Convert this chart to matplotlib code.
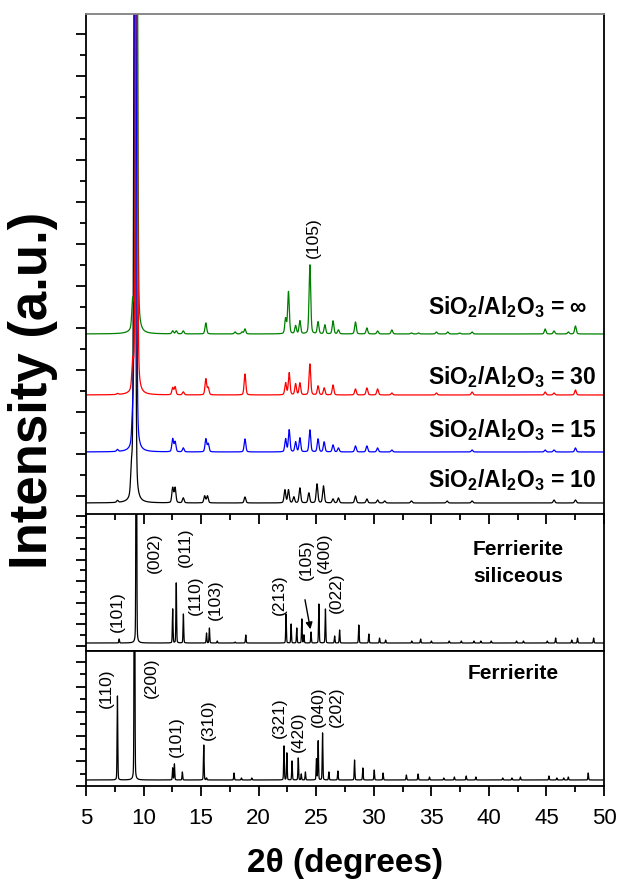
import matplotlib
matplotlib.use('Agg')
import matplotlib.pyplot as plt
from matplotlib.ticker import MultipleLocator, FixedLocator
import numpy as np

plt.rcParams['font.family'] = ['Liberation Sans', 'DejaVu Sans']
plt.rcParams['mathtext.fontset'] = 'custom'
plt.rcParams['mathtext.rm'] = 'Liberation Sans:bold'
plt.rcParams['mathtext.default'] = 'rm'

# --- peak tables (2theta, intensity a.u.) ---
# experimental patterns, SiO2/Al2O3 = 10, 15, 30, inf
pos_10 = [7.73, 8.95, 9.22, 12.53, 12.74, 13.45, 15.31, 15.55, 18.81, 22.28, 22.59,
          23.05, 23.58, 24.36, 25.07, 25.63, 26.46, 26.93, 28.41, 29.4, 30.33, 30.95,
          33.27, 36.37, 38.54, 45.66, 47.52]
int_10 = [2, 25, 700, 15, 15, 5, 7, 7, 6, 13, 13,
          6, 15, 10, 19, 17, 4, 5, 7, 4, 3, 2,
          2, 2, 2, 3, 3]

pos_15 = [7.73, 9.05, 9.3, 12.53, 12.74, 13.45, 15.41, 15.62, 18.81, 22.34, 22.65,
          23.21, 23.58, 24.45, 25.16, 25.69, 26.46, 26.93, 28.41, 29.4, 30.33, 31.57,
          38.54, 44.89, 45.66, 47.52]
int_15 = [2, 25, 700, 13, 10, 4, 13, 8, 13, 13, 22,
          10, 14, 22, 13, 10, 7, 4, 6, 6, 4, 2,
          2, 2, 2, 4]

pos_30 = [7.73, 9.05, 9.38, 12.53, 12.74, 13.45, 15.41, 15.62, 18.81, 22.34, 22.65,
          23.21, 23.58, 24.45, 25.16, 25.69, 26.46, 28.41, 29.4, 30.33, 31.57, 35.44,
          38.54, 44.89, 45.66, 47.52]
int_30 = [1, 25, 700, 7, 8, 3, 16, 7, 21, 12, 22,
          11, 12, 31, 9, 7, 10, 6, 7, 6, 2, 2,
          3, 3, 2, 5]

pos_inf = [9.05, 9.4, 12.53, 12.84, 13.45, 15.41, 17.95, 18.56, 18.81, 22.34, 22.59,
           23.21, 23.58, 24.45, 25.16, 25.75, 26.46, 26.93, 28.41, 29.4, 30.33, 31.57,
           33.27, 33.89, 35.44, 36.43, 37.46, 38.54, 44.89, 45.66, 46.9, 47.52]
int_inf = [25, 700, 3, 3, 3, 11, 2, 2, 5, 15, 42,
           8, 13, 69, 12, 9, 13, 4, 12, 6, 3, 4,
           1, 1, 2, 2, 1, 2, 5, 3, 2, 8]

series_labels = ['SiO$_2$/Al$_2$O$_3$ = 10', 'SiO$_2$/Al$_2$O$_3$ = 15',
                 'SiO$_2$/Al$_2$O$_3$ = 30', 'SiO$_2$/Al$_2$O$_3$ = \u221e']
series_offsets = [0, 51, 108, 169]

# simulated pattern, siliceous ferrierite
pos_sil = [7.88, 9.37, 12.53, 12.84, 13.46, 15.47, 15.72, 16.4, 17.95, 18.88, 22.38,
           22.82, 23.31, 23.75, 23.93, 24.55, 25.23, 25.8, 26.6, 27.03, 28.7, 29.57,
           30.5, 31.03, 33.3, 34.07, 35.0, 36.55, 37.6, 38.7, 39.3, 40.2, 42.4,
           43.0, 45.07, 45.8, 47.2, 47.7, 49.1]
int_sil = [4, 400, 34, 60, 29, 10, 15, 2, 1, 8, 29,
           19, 15, 24, 8, 11, 39, 34, 7, 13, 18, 9,
           5, 3, 2, 4, 2, 2, 2, 2, 2, 2, 2,
           2, 2, 5, 3, 5, 5]
hkl_sil = ['(101)', '(002)', '(011)', '(110)', '(103)', '(213)', '(105)', '(400)', '(022)']
hkl_sil_x = [7.73, 10.98, 13.61, 14.54, 16.24, 21.82, 24.14, 25.69, 26.77]
hkl_sil_y = [32, 91, 97, 49, 44, 49, 84, 91, 51]

# simulated pattern, ferrierite
pos_fer = [7.73, 9.21, 12.53, 12.68, 13.37, 15.23, 15.47, 17.86, 18.5, 19.4, 22.2,
           22.45, 22.9, 23.44, 23.7, 24.06, 25.02, 25.17, 25.55, 26.1, 26.88, 28.33,
           29.05, 30.04, 30.81, 32.83, 33.85, 34.84, 36.08, 37.0, 38.03, 38.87, 41.2,
           42.0, 42.74, 45.22, 45.9, 46.5, 46.9, 48.63]
int_fer = [84, 400, 12, 16, 8, 35, 2, 7, 2, 2, 34,
           27, 19, 22, 6, 8, 21, 39, 47, 8, 9, 20,
           12, 10, 7, 5, 6, 3, 2, 3, 4, 3, 2,
           2, 3, 4, 2, 2, 3, 7]
hkl_fer = ['(110)', '(200)', '(101)', '(310)', '(321)', '(420)', '(040)', '(202)']
hkl_fer_x = [6.8, 10.67, 12.84, 15.62, 21.82, 23.43, 25.16, 26.77]
hkl_fer_y = [93, 103, 44, 61, 63, 49, 74, 74]


def pattern(x, pos, inten, fwhm, eta=0.3):
    """sum of pseudo-Voigt peaks"""
    y = np.zeros_like(x)
    g = fwhm / 2.0
    s = fwhm / 2.3548
    for p, h in zip(pos, inten):
        d = x - p
        lor = g**2 / (d**2 + g**2)
        gau = np.exp(-d**2 / (2 * s**2))
        y += h * (eta * lor + (1 - eta) * gau)
    return y


x = np.arange(5, 50.0001, 0.005)

fig = plt.figure(figsize=(6.21, 8.95), dpi=100)
ax1 = fig.add_axes([0.1385, 0.4246, 0.8341, 0.5587])
ax2 = fig.add_axes([0.1385, 0.2715, 0.8341, 0.1531])
ax3 = fig.add_axes([0.1385, 0.1207, 0.8341, 0.1508])

# top panel: experimental patterns
colors = ['black', '#0000ff', '#008000', '#ff0000']
tables = [(pos_10, int_10), (pos_15, int_15), (pos_inf, int_inf), (pos_30, int_30)]
offs = [series_offsets[0], series_offsets[1], series_offsets[3], series_offsets[2]]
for (p, i), c, o in zip(tables, colors, offs):
    ax1.plot(x, pattern(x, p, i, 0.17) + o, color=c, lw=0.9)

label_y = [24, 74, 127, 197]
for lab, ly in zip(series_labels, label_y):
    ax1.text(34.7, ly, lab, fontsize=16.5, fontweight='bold', ha='left', va='center')
ax1.text(24.72, 266, '(105)', rotation=90, fontsize=12.5, ha='center', va='center')

ax1.set_xlim(5, 50)
ax1.set_ylim(-11, 489)
ax1.yaxis.set_major_locator(FixedLocator(np.arange(7, 489, 42)))
ax1.yaxis.set_minor_locator(FixedLocator(np.arange(28, 489, 42)))
ax1.tick_params(axis='x', which='both', bottom=False, labelbottom=False)
ax1.spines['top'].set_color('#808080')
ax1.spines['bottom'].set_visible(False)

# middle panel: siliceous ferrierite
ax2.plot(x, pattern(x, pos_sil, int_sil, 0.07, 0.2), color='black', lw=0.9)
for lab, lx, ly in zip(hkl_sil, hkl_sil_x, hkl_sil_y):
    ax2.text(lx, ly, lab, rotation=90, fontsize=12.5, ha='center', va='center')
ax2.annotate('', xy=(24.54, 11), xytext=(23.98, 46),
             arrowprops=dict(arrowstyle='-|>', color='black', lw=1, mutation_scale=10))
ax2.text(42.57, 81, 'Ferrierite\nsiliceous', fontsize=15, fontweight='bold',
         ha='center', va='center', linespacing=1.5)
ax2.set_xlim(5, 50)
ax2.set_ylim(-8, 129)
ax2.yaxis.set_major_locator(FixedLocator(np.arange(-3, 129, 21.6)))
ax2.yaxis.set_minor_locator(FixedLocator(np.arange(7.8, 129, 21.6)))
ax2.xaxis.set_major_locator(MultipleLocator(5))
ax2.xaxis.set_minor_locator(MultipleLocator(2.5))
ax2.tick_params(axis='x', which='both', bottom=False, top=True, direction='in',
                labelbottom=False)

# bottom panel: ferrierite
ax3.plot(x, pattern(x, pos_fer, int_fer, 0.07, 0.2), color='black', lw=0.9)
for lab, lx, ly in zip(hkl_fer, hkl_fer_x, hkl_fer_y):
    ax3.text(lx, ly, lab, rotation=90, fontsize=12.5, ha='center', va='center')
ax3.text(42.1, 108, 'Ferrierite', fontsize=15, fontweight='bold', ha='center', va='center')
ax3.set_xlim(5, 50)
ax3.set_ylim(-6, 129)
ax3.yaxis.set_major_locator(FixedLocator(np.arange(-6, 129, 24.8)))
ax3.yaxis.set_minor_locator(FixedLocator(np.arange(6.4, 129, 24.8)))
ax3.xaxis.set_major_locator(MultipleLocator(5))
ax3.xaxis.set_minor_locator(MultipleLocator(2.5))
ax3.tick_params(axis='x', which='both', top=False, direction='out')
ax3.tick_params(axis='x', labelsize=16, pad=8)

for ax in (ax1, ax2, ax3):
    for s in ax.spines.values():
        s.set_linewidth(1.3)
    ax.tick_params(axis='y', which='both', direction='out', labelleft=False, width=1.3)
    ax.tick_params(which='major', length=7, width=1.3)
    ax.tick_params(which='minor', length=4, width=1.3)

ax3.set_xlabel('2\u03b8 (degrees)', fontsize=24, fontweight='bold', labelpad=14)
fig.text(0.053, 1 - 390 / 895, 'Intensity (a.u.)', rotation=90, fontsize=38,
         fontweight='bold', ha='center', va='center')

fig.savefig('out.png', dpi=100)
